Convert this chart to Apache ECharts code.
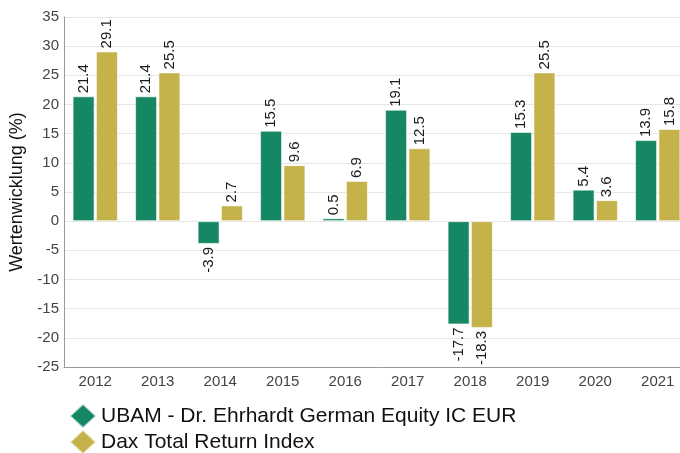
<!DOCTYPE html>
<html>
<head>
<meta charset="utf-8">
<script src="https://cdn.jsdelivr.net/npm/echarts@6/dist/echarts.min.js"></script>
<style>html,body{margin:0;padding:0;background:#fff;overflow:hidden;width:680px;height:453px}#c{width:700px;height:453px}</style>
</head>
<body>
<div id="c"></div>
<script>
var categories = ['2012','2013','2014','2015','2016','2017','2018','2019','2020','2021'];
var fundName = 'UBAM - Dr. Ehrhardt German Equity IC EUR';
var indexName = 'Dax Total Return Index';
var fundValues = [21.4, 21.4, -3.9, 15.5, 0.5, 19.1, -17.7, 15.3, 5.4, 13.9];
var indexValues = [29.1, 25.5, 2.7, 9.6, 6.9, 12.5, -18.3, 25.5, 3.6, 15.8];
var yTicks = {min: -25, max: 35, interval: 5};
var yAxisName = 'Wertenwicklung (%)';

function withLabels(vals) {
  return vals.map(function (v) {
    if (v < 0) {
      return {value: v, label: {position: 'bottom', align: 'right', verticalAlign: 'middle'}};
    }
    return {value: v};
  });
}

var FONT = 'Liberation Sans, Arial, sans-serif';
var labelCfg = {
  show: true, position: 'top', rotate: 90, align: 'left', verticalAlign: 'middle',
  distance: 3, fontFamily: FONT, fontSize: 15, color: '#1a1a1a',
  formatter: function (p) { return p.value.toFixed(1); }
};

var chart = echarts.init(document.getElementById('c'), null, {renderer: 'canvas'});
chart.setOption({
  animation: false,
  textStyle: {fontFamily: FONT},
  grid: {left: 61, width: 628, top: 17, height: 350, containLabel: false},
  legend: {
    orient: 'vertical', left: 64, top: 398, height: 80, icon: 'diamond',
    itemWidth: 26, itemHeight: 24, itemGap: 0,
    textStyle: {fontSize: 21, lineHeight: 24, color: '#111', fontFamily: FONT},
    data: [fundName, indexName]
  },
  xAxis: {
    type: 'category', data: categories,
    axisLine: {onZero: false, lineStyle: {color: '#999'}},
    axisTick: {show: false},
    axisLabel: {color: '#444', fontSize: 15, margin: 7}
  },
  yAxis: {
    type: 'value', min: yTicks.min, max: yTicks.max, interval: yTicks.interval,
    name: yAxisName, nameLocation: 'middle', nameGap: 38,
    nameTextStyle: {fontSize: 18, color: '#111'},
    axisLine: {show: true, lineStyle: {color: '#999'}},
    axisTick: {show: false},
    axisLabel: {color: '#444', fontSize: 15, margin: 5},
    splitLine: {lineStyle: {color: '#e6e6e6'}}
  },
  series: [
    {name: fundName, type: 'bar', data: withLabels(fundValues), barWidth: 22, barGap: '6%',
     itemStyle: {color: '#168765', borderColor: 'rgba(255,255,255,0.6)', borderWidth: 1}, label: labelCfg},
    {name: indexName, type: 'bar', data: withLabels(indexValues), barWidth: 22,
     itemStyle: {color: '#c5b24a', borderColor: 'rgba(255,255,255,0.6)', borderWidth: 1}, label: labelCfg}
  ]
});
</script>
</body>
</html>
